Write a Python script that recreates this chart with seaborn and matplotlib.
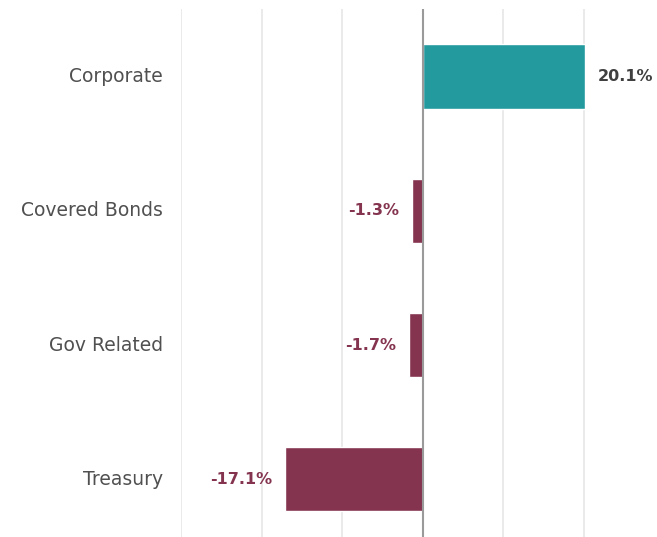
import matplotlib
matplotlib.use("Agg")
import matplotlib.pyplot as plt
import seaborn as sns
import pandas as pd

categories = ["Corporate", "Covered Bonds", "Gov Related", "Treasury"]
values = [20.1, -1.3, -1.7, -17.1]
labels = ["20.1%", "-1.3%", "-1.7%", "-17.1%"]

POS = "#229A9E"
NEG = "#84344E"

df = pd.DataFrame({"cat": categories, "val": values})
df["sign"] = ["pos" if v >= 0 else "neg" for v in values]

sns.set_theme(style="white")
plt.rcParams["font.family"] = ["DejaVu Sans"]

fig = plt.figure(figsize=(6.57, 5.37), dpi=100)
ax = fig.add_axes([181 / 657, 0.0, (657 - 181) / 657, 1 - 9.4 / 537])

sns.barplot(data=df, y="cat", x="val", hue="sign", palette={"pos": POS, "neg": NEG},
            orient="h", width=0.48, dodge=False, legend=False, saturation=1, ax=ax)

ax.set_xlim(-30, 29.05)
ax.set_ylim(3.43, -0.5)
ax.set_xticks([-30, -20, -10, 10, 20])
ax.xaxis.grid(True, color="#e6e6e6", linewidth=1.2)
ax.set_axisbelow(True)
ax.axvline(0, color="#9a9a9a", linewidth=1.5, zorder=3)
for s in ax.spines.values():
    s.set_visible(False)
ax.tick_params(axis="x", length=0, labelbottom=False)
ax.tick_params(axis="y", length=0, pad=13)
ax.set_xlabel("")
ax.set_ylabel("")
for t in ax.get_yticklabels():
    t.set_fontsize(13.5)
    t.set_color("#505050")
    t.set_verticalalignment("center")

for i, (v, lab) in enumerate(zip(values, labels)):
    if v >= 0:
        ax.annotate(lab, (v, i), xytext=(9.5, 0), textcoords="offset points",
                    ha="left", va="center", fontsize=11.5, fontweight="bold", color="#404040")
    else:
        ax.annotate(lab, (v, i), xytext=(-9.5, 0), textcoords="offset points",
                    ha="right", va="center", fontsize=11.5, fontweight="bold", color=NEG)

fig.savefig("out.png", dpi=100)
